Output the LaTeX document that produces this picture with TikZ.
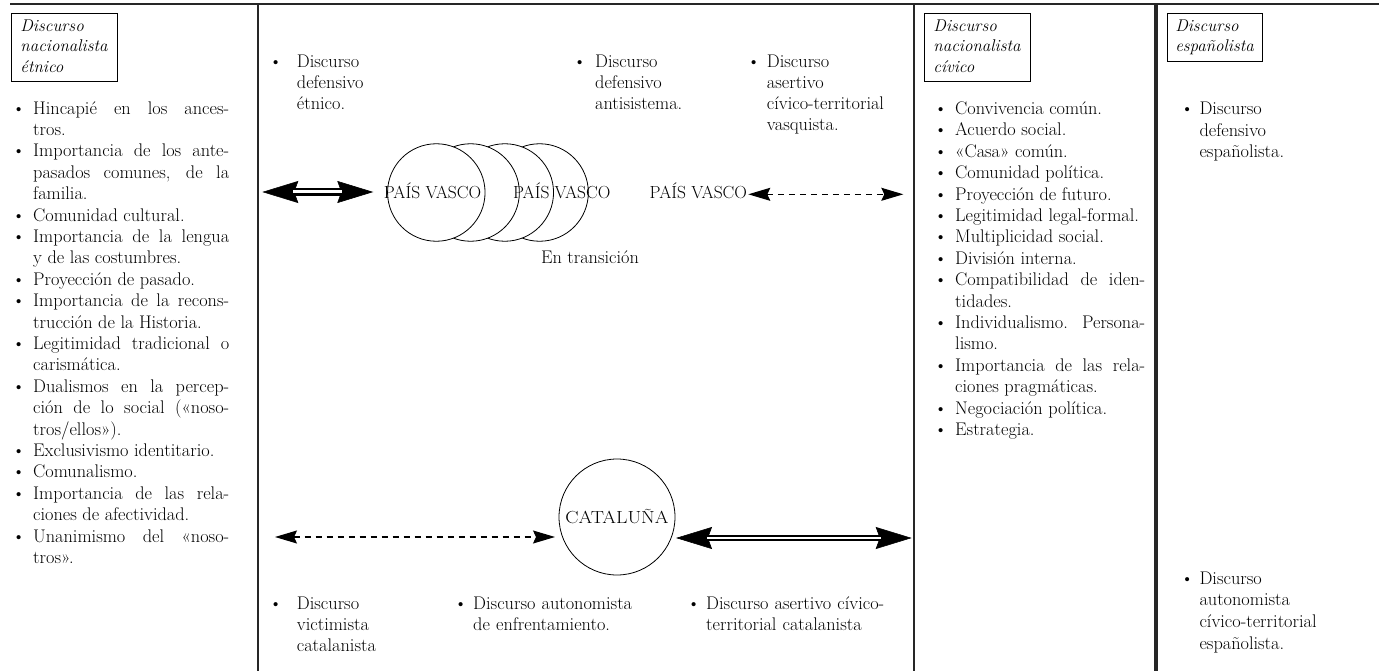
\documentclass[tikz,border=0pt]{standalone}
\usepackage{graphicx}
\usetikzlibrary{arrows.meta}
\newcommand{\bitem}[2]{\par\lineskiplimit=-50pt\relax\noindent\hangindent=#1\hangafter=1\makebox[#1][l]{\strut\textbullet}\ignorespaces#2\par}
\tikzset{
  txt/.style={inner sep=0pt, anchor=north west},
  fs/.style={font=\fontsize{18.3}{#1}\selectfont},
  hdr/.style={draw, line width=0.9pt, anchor=north west, inner xsep=9pt, inner ysep=3.5pt, align=left, font=\fontsize{17}{20.6}\selectfont\itshape},
  rulel/.style={line width=1.7pt, draw=black!85},
  pv/.style={anchor=base, inner sep=0pt, font=\fontsize{17.5}{20}\selectfont},
  ring/.style={draw, circle, fill=white, minimum size=97.5pt, inner sep=0pt, line width=0.8pt},
  bigtips/.style={{Stealth[length=36pt,width=22pt,inset=4pt]}-{Stealth[length=36pt,width=22pt,inset=4pt]}, line width=0.6pt},
  dshaft/.style={line width=2.3pt, double=white, double distance=3pt, shorten <=31pt, shorten >=31pt},
  dashline/.style={line width=1.1pt, dash pattern=on 6pt off 5pt, {Stealth[length=22pt,width=13pt,inset=3pt]}-{Stealth[length=22pt,width=13pt,inset=3pt]}}
}
\begin{document}
\begin{tikzpicture}[x=1pt,y=-1pt]
\useasboundingbox (0,0) rectangle (1386,671);
% frame rules
\draw[rulel] (10,4) -- (1379,4);
\draw[rulel] (258,4) -- (258,671);
\draw[rulel] (914,4) -- (914,671);
\draw[rulel, line width=3.3pt] (1156,4) -- (1156,671);

% header boxes
\node[hdr, text width=88pt] (h1) at (11,12.7) {\strut Discurso\\ nacionalista\\ étnico\strut};
\node[hdr, text width=88pt] (h2) at (924,12.7) {\strut Discurso\\ nacionalista\\ cívico\strut};
\node[hdr, text width=80pt, inner xsep=7.5pt] (h3) at (1167.3,12.7) {\strut Discurso\\ españolista\strut};

% left column
\node[txt, text width=217pt, align=justify, fs=21.4] (lc) at (12,92.5) {%
\bitem{21pt}{Hincapié en los ances-\linebreak tros.}
\bitem{21pt}{Importancia de los ante-\linebreak pasados comunes, de la\linebreak familia.}
\bitem{21pt}{Comunidad cultural.}
\bitem{21pt}{Importancia de la lengua\linebreak y de las costumbres.}
\bitem{21pt}{Proyección de pasado.}
\bitem{21pt}{Importancia de la recons-\linebreak trucción de la Historia.}
\bitem{21pt}{Legitimidad tradicional o\linebreak carismática.}
\bitem{21pt}{Dualismos en la percep-\linebreak ción de lo social («noso-\linebreak tros/ellos»).}
\bitem{21pt}{Exclusivismo identitario.}
\bitem{21pt}{Comunalismo.}
\bitem{21pt}{Importancia de las rela-\linebreak ciones de afectividad.}
\bitem{21pt}{Unanimismo del «noso-\linebreak tros».}};

% civic column
\node[txt, text width=211pt, align=justify, fs=21.4] (cc) at (934,93) {%
\bitem{21pt}{Convivencia común.}
\bitem{21pt}{Acuerdo social.}
\bitem{21pt}{«Casa» común.}
\bitem{21pt}{Comunidad política.}
\bitem{21pt}{Proyección de futuro.}
\bitem{21pt}{Legitimidad legal-formal.}
\bitem{21pt}{Multiplicidad social.}
\bitem{21pt}{División interna.}
\bitem{21pt}{Compatibilidad de iden-\linebreak tidades.}
\bitem{21pt}{Individualismo. Persona-\linebreak lismo.}
\bitem{21pt}{Importancia de las rela-\linebreak ciones pragmáticas.}
\bitem{21pt}{Negociación política.}
\bitem{21pt}{Estrategia.}};

% españolista column
\node[txt, text width=190pt, align=left, fs=21.5] (e1) at (1180.5,93) {\bitem{18.8pt}{Discurso\newline defensivo\newline españolista.}};
\node[txt, text width=190pt, align=left, fs=21.7] (e2) at (1180.5,562.3) {\bitem{18.8pt}{Discurso\newline autonomista\newline cívico-territorial\newline españolista.}};

% middle top items
\node[txt, text width=150pt, align=left, fs=21] (t1) at (269,46.5) {\bitem{27.7pt}{Discurso\newline defensivo\newline étnico.}};
\node[txt, text width=150pt, align=left, fs=21] (t2) at (573,46.5) {\bitem{22pt}{Discurso\newline defensivo\newline antisistema.}};
\node[txt, text width=150pt, align=left, fs=21] (t3) at (747,46.5) {\bitem{19.7pt}{Discurso\newline asertivo\newline cívico-territorial\newline vasquista.}};

% middle bottom items
\node[txt, text width=150pt, align=left, fs=21] (b1) at (269,588.3) {\bitem{27.7pt}{Discurso\newline victimista\newline catalanista}};
\node[txt, text width=200pt, align=left, fs=21] (b2) at (454,588.3) {\bitem{19pt}{Discurso autonomista\newline de enfrentamiento.}};
\node[txt, text width=200pt, align=left, fs=21] (b3) at (687,588.3) {\bitem{19pt}{Discurso asertivo cívico-\newline territorial catalanista}};

% País Vasco circles
\node[ring] (c4) at (539.6,192.5) {};
\node[ring] (c3) at (504.8,192.5) {};
\node[ring] (c2) at (470.6,192.5) {};
\node[ring] (c1) at (436.3,192.5) {};
\node[pv] (pv1) at (432.5,199) {PAÍS VASCO};
\node[pv] (pv2) at (561.7,199) {PAÍS VASCO};
\node[pv] (pv3) at (698.3,199) {PAÍS VASCO};
\node[inner sep=0pt, font=\fontsize{18.3}{20}\selectfont] (tr) at (590,257) {En transición};

% Cataluña
\node[draw, circle, minimum size=116pt, inner sep=0pt, line width=0.8pt, font=\fontsize{17.5}{20}\selectfont] (cat) at (617,517) {\scalebox{1.13}[1]{CATALUÑA}};

% arrows
\coordinate (aL) at (262.3,192);
\coordinate (aR) at (373.3,192);
\draw[bigtips] (aL) -- (aR);
\draw[dshaft] (aL) -- (aR);

\coordinate (dA) at (748.3,194.3);
\coordinate (dB) at (903.3,194.3);
\draw[dashline] (dA) -- (dB);

\coordinate (eA) at (275,537);
\coordinate (eB) at (555,537);
\draw[dashline] (eA) -- (eB);

\coordinate (fA) at (676,538);
\coordinate (fB) at (911.7,538);
\draw[bigtips] (fA) -- (fB);
\draw[dshaft, line width=2pt, double distance=2.6pt] (fA) -- (fB);
\end{tikzpicture}
\end{document}
